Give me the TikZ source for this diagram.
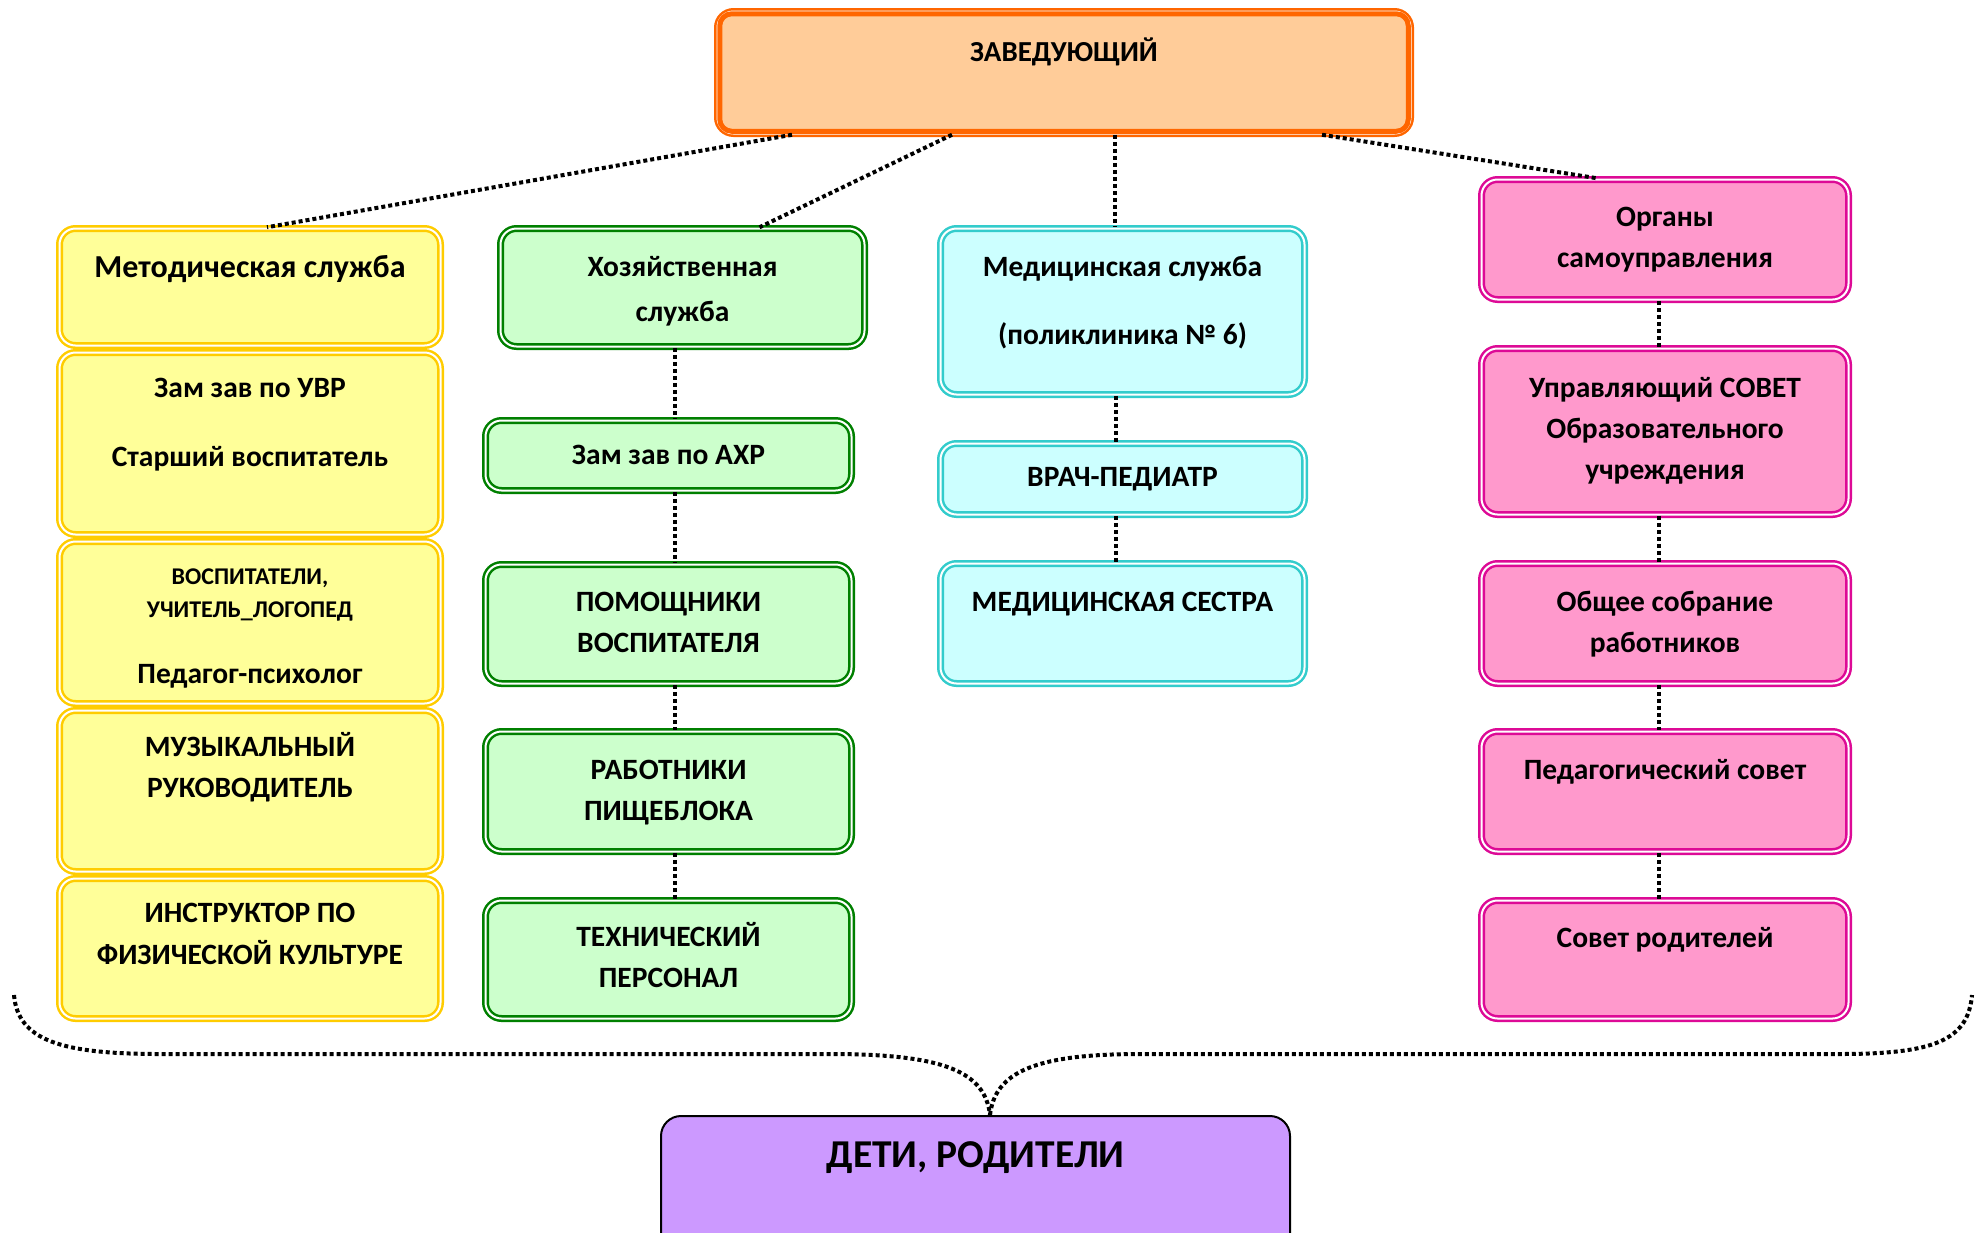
\documentclass[tikz,border=0pt]{standalone}
\usepackage{fontspec}
\setmainfont{Carlito}
\definecolor{orB}{HTML}{FF6600}
\definecolor{orF}{HTML}{FFCC99}
\definecolor{yeB}{HTML}{FFCC00}
\definecolor{yeF}{HTML}{FFFF99}
\definecolor{grB}{HTML}{008000}
\definecolor{grF}{HTML}{CCFFCC}
\definecolor{cyB}{HTML}{33CCCC}
\definecolor{cyF}{HTML}{CCFFFF}
\definecolor{piB}{HTML}{DD0A96}
\definecolor{piF}{HTML}{FF99CC}
\definecolor{puF}{HTML}{CC99FF}
\newcommand\fstrut{\rule{0pt}{26pt}}
\tikzset{
  box/.style={rounded corners=16pt, double=white, double distance=2pt, line width=2.5pt, inner sep=0pt},
  ybox/.style={box, draw=yeB, fill=yeF, minimum width=381pt},
  gbox/.style={box, draw=grB, fill=grF, minimum width=366pt},
  cbox/.style={box, draw=cyB, fill=cyF, minimum width=364pt},
  pbox/.style={box, draw=piB, fill=piF, minimum width=367pt},
  lbl/.style={anchor=north, inner sep=0pt, align=center, font=\fontsize{29.5}{41}\selectfont\bfseries},
  conn/.style={line width=4pt, dash pattern=on 4pt off 3pt},
}
\begin{document}
\begin{tikzpicture}[x=1pt,y=-1pt]
\useasboundingbox (0,0) rectangle (1980,1232);
\clip (0,0) rectangle (1980,1232);

% top box
\node[box, draw=orB, fill=orF, minimum width=693pt, minimum height=122pt] (Z) at (1064,72.5) {};
\draw[orB, line width=5pt, rounded corners=12pt] ([shift={(3.5,3.5)}]Z.north west) rectangle ([shift={(-3.5,-3.5)}]Z.south east);
\node[lbl, font=\fontsize{29}{41}\selectfont\bfseries] (tZ) at (1064,35.3) {\rule{0pt}{26pt}ЗАВЕДУЮЩИЙ};

% yellow column
\node[ybox, minimum height=117pt] (Y1) at (250,287) {};
\node[ybox, minimum height=182pt] (Y2) at (250,443.5) {};
\node[ybox, minimum height=162pt] (Y3) at (250,622.5) {};
\node[ybox, minimum height=161pt] (Y4) at (250,791) {};
\node[ybox, minimum height=140pt] (Y5) at (250,948.5) {};
\node[lbl, font=\fontsize{32}{41}\selectfont\bfseries] (tY1) at (250,251.3) {\fstrut Методическая служба};
\node[lbl] (tY2) at (250,371.5) {\fstrut Зам зав по УВР\\[28pt]Старший воспитатель};
\node[lbl, font=\fontsize{24}{33}\selectfont\bfseries] (tY3) at (250,563.7) {\rule{0pt}{21pt}ВОСПИТАТЕЛИ,\\УЧИТЕЛЬ\_ЛОГОПЕД};
\node[lbl] (tY3b) at (250,657.5) {\fstrut Педагог-психолог};
\node[lbl] (tY4) at (250,730.5) {\fstrut МУЗЫКАЛЬНЫЙ\\РУКОВОДИТЕЛЬ};
\node[lbl] (tY5) at (250,896.5) {\fstrut ИНСТРУКТОР ПО\\[1pt]ФИЗИЧЕСКОЙ КУЛЬТУРЕ};

% green column
\node[gbox, minimum width=364pt, minimum height=118pt] (G1) at (682.5,287.5) {};
\node[gbox, minimum height=70pt] (G2) at (668.5,455.5) {};
\node[gbox, minimum height=119pt] (G3) at (668.5,624) {};
\node[gbox, minimum height=120pt] (G4) at (668.5,791.5) {};
\node[gbox, minimum height=118pt] (G5) at (668.5,959.5) {};
\node[lbl] (tG1) at (682.5,250.5) {\fstrut Хозяйственная\\[4pt]служба};
\node[lbl] (tG2) at (668.5,438.5) {\fstrut Зам зав по АХР};
\node[lbl] (tG3) at (668.5,585.5) {\fstrut ПОМОЩНИКИ\\ВОСПИТАТЕЛЯ};
\node[lbl] (tG4) at (668.5,753.5) {\fstrut РАБОТНИКИ\\ПИЩЕБЛОКА};
\node[lbl] (tG5) at (668.5,920.5) {\fstrut ТЕХНИЧЕСКИЙ\\ПЕРСОНАЛ};

% cyan column
\node[cbox, minimum height=166pt] (C1) at (1122.5,311.5) {};
\node[cbox, minimum height=71pt] (C2) at (1122.5,479) {};
\node[cbox, minimum height=120pt] (C3) at (1122.5,623.5) {};
\node[lbl] (tC1) at (1122.5,250.5) {\fstrut Медицинская служба\\[27pt](поликлиника № 6)};
\node[lbl] (tC2) at (1122.5,460.5) {\fstrut ВРАЧ-ПЕДИАТР};
\node[lbl] (tC3) at (1122.5,585.5) {\fstrut МЕДИЦИНСКАЯ СЕСТРА};

% pink column
\node[pbox, minimum height=120pt] (P1) at (1665,239.5) {};
\node[pbox, minimum height=166pt] (P2) at (1665,431.5) {};
\node[pbox, minimum height=120pt] (P3) at (1665,623.5) {};
\node[pbox, minimum height=120pt] (P4) at (1665,791.5) {};
\node[pbox, minimum height=118pt] (P5) at (1665,959.5) {};
\node[lbl] (tP1) at (1665,200.5) {\fstrut Органы\\самоуправления};
\node[lbl] (tP2) at (1665,371.5) {\fstrut Управляющий СОВЕТ\\Образовательного\\учреждения};
\node[lbl] (tP3) at (1665,585.5) {\fstrut Общее собрание\\работников};
\node[lbl] (tP4) at (1665,753.5) {\fstrut Педагогический совет};
\node[lbl] (tP5) at (1665,921.5) {\fstrut Совет родителей};

% bottom box
\node[draw=black, line width=2pt, fill=puF, rounded corners=20pt, inner sep=0pt,
      minimum width=629pt, minimum height=140pt] (D) at (975.5,1186) {};
\node[lbl, font=\fontsize{39.5}{41}\selectfont\bfseries] (tD) at (975.5,1132) {\rule{0pt}{35pt}ДЕТИ, РОДИТЕЛИ};

% connectors from top
\draw[conn] ([xshift=-272pt]Z.south) -- ([xshift=17pt]Y1.north);
\draw[conn] ([xshift=-112pt]Z.south) -- ([xshift=77pt]G1.north);
\draw[conn] ([xshift=51pt]Z.south) -- ([xshift=51pt]Z.south |- C1.north);
\draw[conn] ([xshift=258pt]Z.south) -- ([xshift=-68pt]P1.north);

% column connectors
\coordinate (gx) at (675,0);
\coordinate (cx) at (1116,0);
\coordinate (px) at (1659,0);
\draw[conn] (G1.south -| gx) -- (G2.north -| gx);
\draw[conn] (G2.south -| gx) -- (G3.north -| gx);
\draw[conn] (G3.south -| gx) -- (G4.north -| gx);
\draw[conn] (G4.south -| gx) -- (G5.north -| gx);
\draw[conn] (C1.south -| cx) -- (C2.north -| cx);
\draw[conn] (C2.south -| cx) -- (C3.north -| cx);
\draw[conn] (P1.south -| px) -- (P2.north -| px);
\draw[conn] (P2.south -| px) -- (P3.north -| px);
\draw[conn] (P3.south -| px) -- (P4.north -| px);
\draw[conn] (P4.south -| px) -- (P5.north -| px);

% bottom brace
\coordinate (bl) at (14,995);
\coordinate (br) at (1972,995);
\coordinate (bm) at ([xshift=14.5pt]D.north);
\draw[conn] (bl) .. controls (18,1040) and (60,1054) .. (160,1054) -- (830,1054) .. controls (945,1054) and (985,1072) .. (bm);
\draw[conn] (bm) .. controls (995,1072) and (1035,1054) .. (1140,1054) -- (1840,1054) .. controls (1935,1054) and (1968,1040) .. (br);
\end{tikzpicture}
\end{document}
